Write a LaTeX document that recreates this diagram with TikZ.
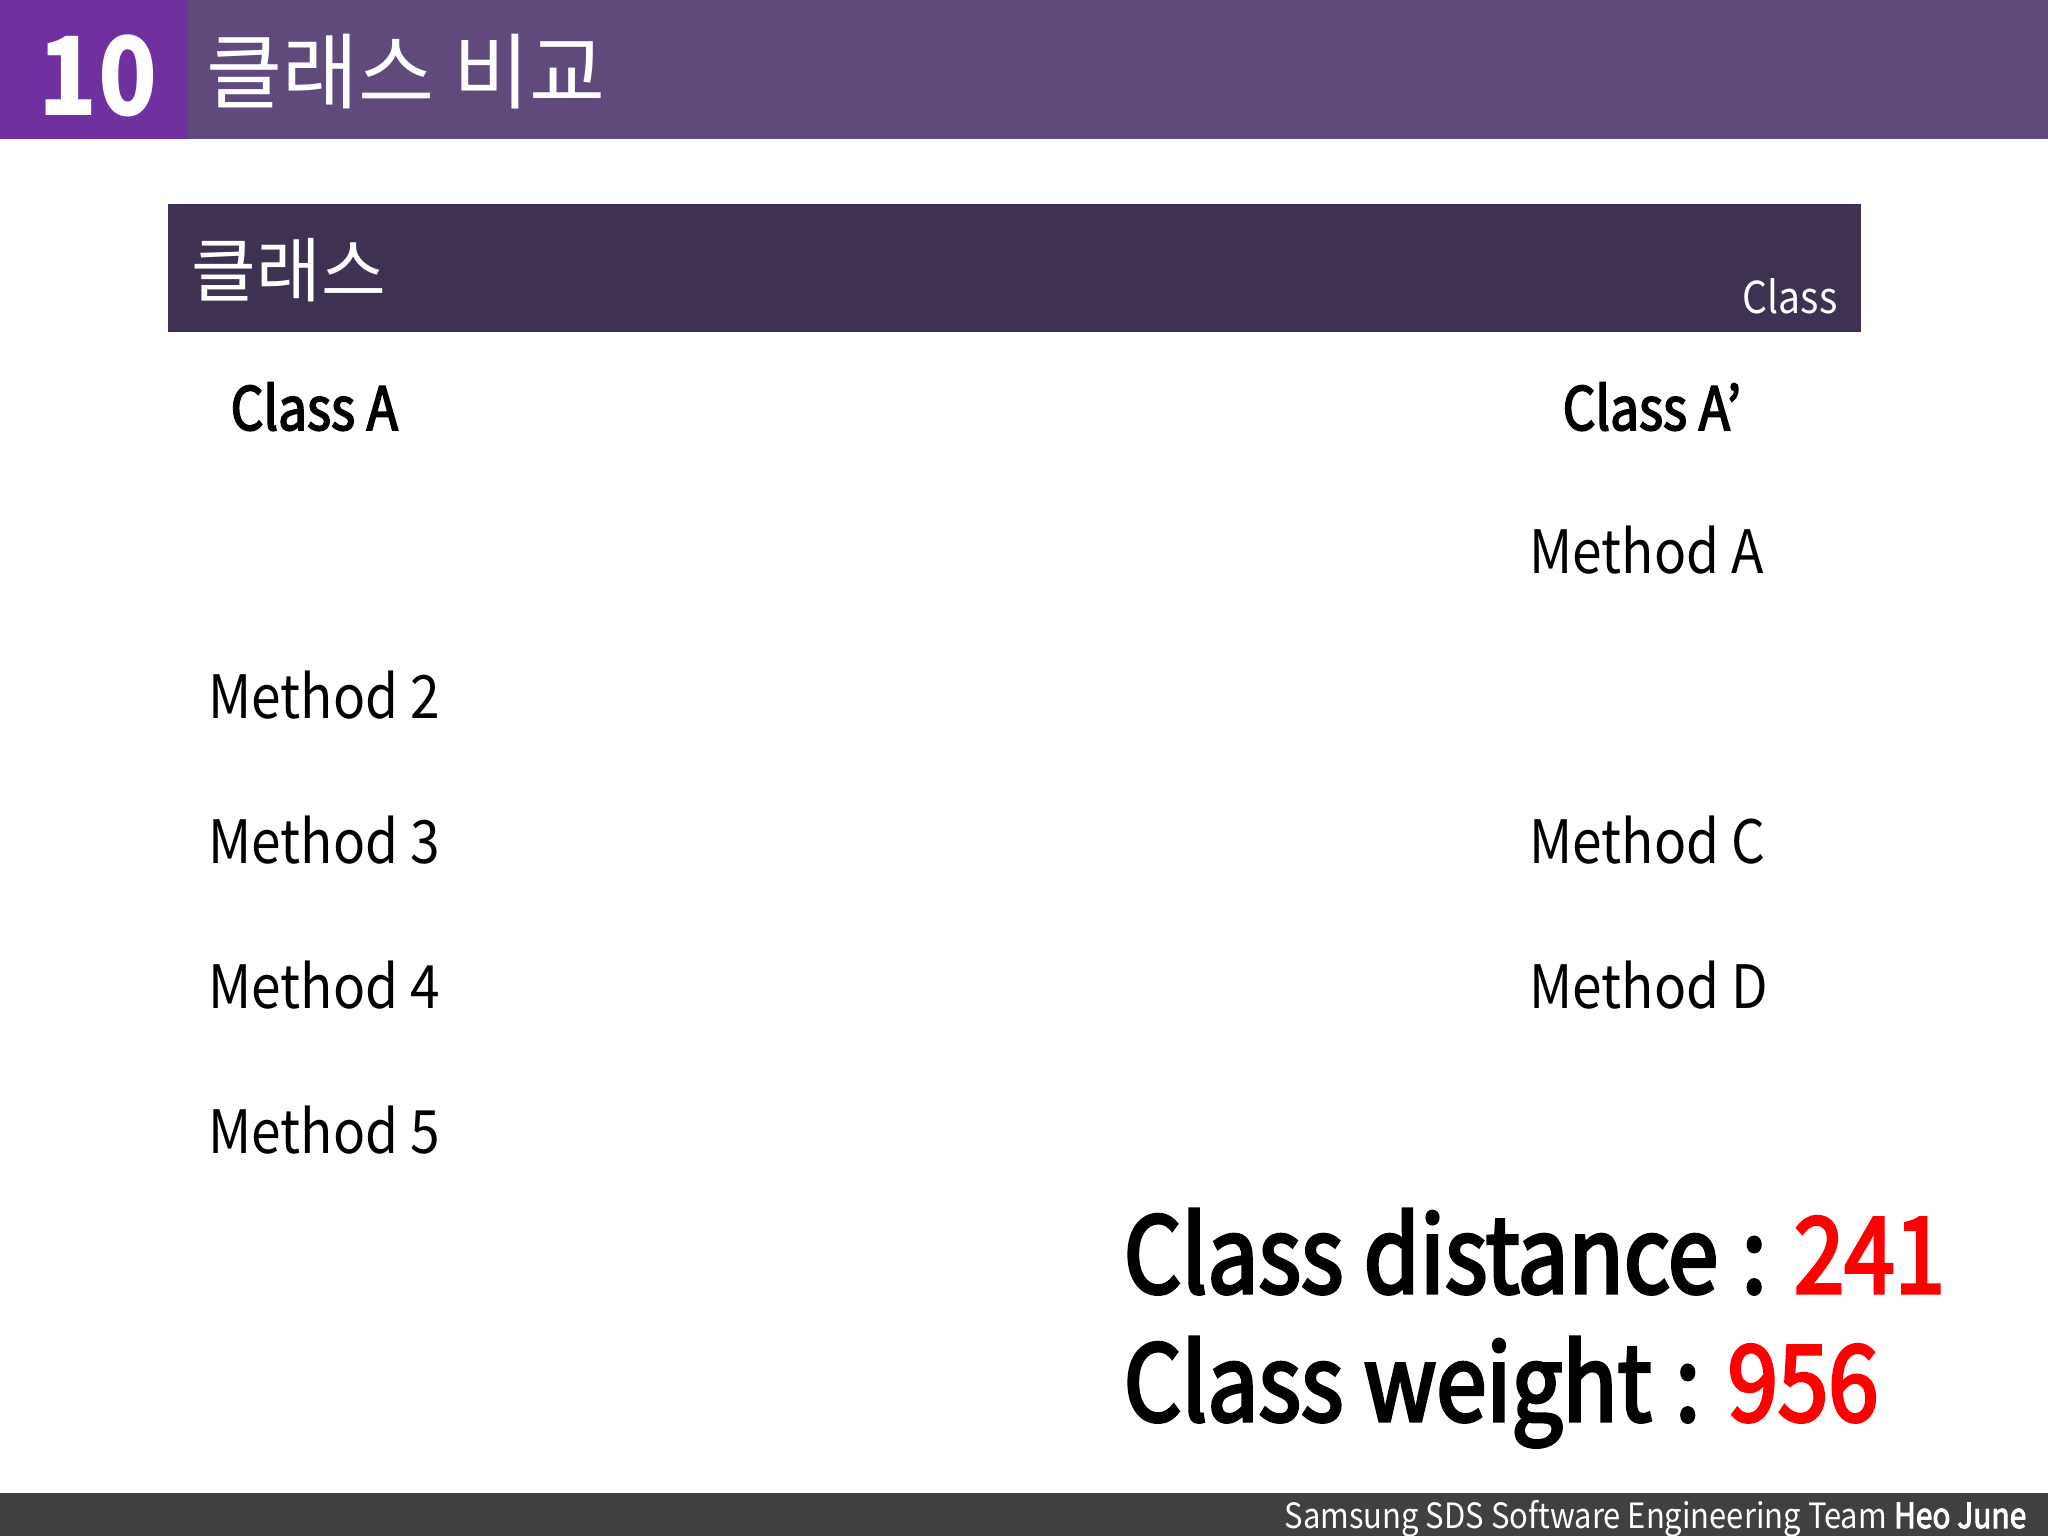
\documentclass[tikz,border=0pt]{standalone}
\usepackage{fontspec}
\setmainfont[FakeStretch=0.89]{Noto Sans CJK KR}
\newfontfamily\krfont{Noto Sans CJK KR}
\newfontfamily\headfont[FakeBold=2.8, FakeStretch=0.86]{Noto Sans CJK KR}
\newfontfamily\statfont[FakeBold=3, FakeStretch=0.86]{Noto Sans CJK KR}
\definecolor{headpurple}{HTML}{7030A0}
\definecolor{headband}{HTML}{604A7B}
\definecolor{titlebar}{HTML}{3F3151}
\definecolor{footbar}{HTML}{404040}
\definecolor{valred}{HTML}{FF0000}
\newcommand{\statsep}{\hspace{0.03em} : }
\begin{document}
\begin{tikzpicture}[x=0.01cm, y=-0.01cm,
    method/.style={anchor=base west, inner sep=0pt, font=\fontsize{17}{20}\selectfont},
    classhead/.style={anchor=base west, inner sep=0pt, font=\headfont\fontsize{17}{20}\selectfont},
    stat/.style={anchor=base west, inner sep=0pt, font=\statfont\fontsize{30}{36}\selectfont}
]
    \useasboundingbox (0,0) rectangle (2048,1536);
    \fill[white] (0,0) rectangle (2048,1536);

    % Header band
    \fill[headband] (0,0) rectangle (2048,139);
    \fill[headpurple] (0,0) rectangle (188,139);
    \node[anchor=base, inner sep=0pt, text=white, font=\bfseries\fontsize{31}{36}\selectfont] (num) at (98,115) {10};
    \node[anchor=west, inner sep=0pt, text=white, font=\krfont\fontsize{23.5}{28}\selectfont] (title) at (206,72) {클래스 비교};

    % Section bar
    \fill[titlebar] (168,204) rectangle (1861,332);
    \node[anchor=west, inner sep=0pt, text=white, font=\krfont\fontsize{20}{24}\selectfont] (sect) at (191,270) {클래스};
    \node[anchor=base east, inner sep=0pt, text=white, font=\fontsize{12.5}{15}\selectfont] (secten) at (1838,313) {Class};

    % Class headings
    \node[classhead] (ca) at (230,430) {Class A};
    \node[classhead] (cb) at (1562,430) {Class A’};

    % Methods of Class A
    \node[method] (m2) at (208,718) {Method 2};
    \node[method] (m3) at (208,863) {Method 3};
    \node[method] (m4) at (208,1008) {Method 4};
    \node[method] (m5) at (208,1153) {Method 5};

    % Methods of Class A'
    \node[method] (ma) at (1529,573) {Method A};
    \node[method] (mc) at (1529,863) {Method C};
    \node[method] (md) at (1529,1008) {Method D};

    % Result
    \node[stat] (dist) at (1123,1293) {Class distance\statsep\textcolor{valred}{241}};
    \node[stat] (weight) at (1123,1421) {Class weight\statsep\textcolor{valred}{956}};

    % Footer
    \fill[footbar] (0,1493) rectangle (2048,1536);
    \node[anchor=base east, inner sep=0pt, text=white, font=\fontsize{9.9}{11}\selectfont] (foot) at (2027,1528) {Samsung SDS Software Engineering Team {\headfont Heo June}};
\end{tikzpicture}
\end{document}
